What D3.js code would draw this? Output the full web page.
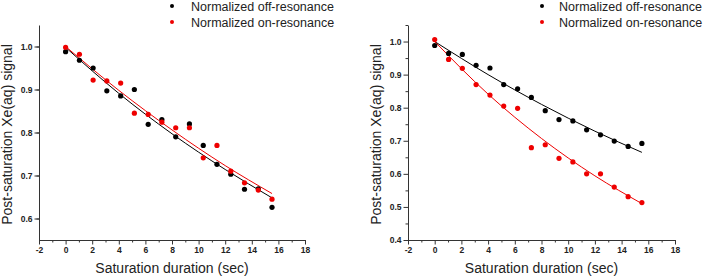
<!DOCTYPE html>
<html>
<head>
<meta charset="utf-8">
<script src="https://cdn.jsdelivr.net/npm/d3@7"></script>
<style>
  html, body { margin: 0; padding: 0; background: #fff; }
  svg { display: block; font-family: Arial, "Liberation Sans", sans-serif; }
</style>
</head>
<body>
<svg width="707" height="278"></svg>
<script>
// saturation durations (sec), shared by both panels
var times = [0, 1.04, 2.07, 3.1, 4.14, 5.17, 6.21, 7.24, 8.28, 9.31, 10.35, 11.38, 12.42, 13.45, 14.49, 15.52]

// left panel
var leftOff = [0.988, 0.968, 0.950, 0.897, 0.885, 0.900, 0.819, 0.830, 0.790, 0.820, 0.770, 0.726, 0.703, 0.668, 0.669, 0.626]
var leftOn = [0.998, 0.982, 0.922, 0.920, 0.915, 0.845, 0.842, 0.824, 0.811, 0.811, 0.741, 0.770, 0.710, 0.683, 0.666, 0.645]
// right panel
var rightOff = [0.988, 0.964, 0.961, 0.928, 0.920, 0.870, 0.857, 0.831, 0.791, 0.764, 0.760, 0.733, 0.718, 0.699, 0.683, 0.692]
var rightOn = [1.006, 0.946, 0.919, 0.870, 0.838, 0.805, 0.798, 0.679, 0.688, 0.647, 0.636, 0.600, 0.600, 0.560, 0.531, 0.513]

// fit curves
var fitT = [0, 4, 8, 12, 15.52]
var leftOffFit = [0.998, 0.891, 0.797, 0.714, 0.648]
var leftOnFit = [1.000, 0.898, 0.806, 0.723, 0.658]
var rightOffFit = [1.000, 0.900, 0.810, 0.729, 0.665]
var rightOnFit = [1.000, 0.841, 0.707, 0.594, 0.510]

var xTicks = [-2, 0, 2, 4, 6, 8, 10, 12, 14, 16, 18]
var leftYTicks = [0.6, 0.7, 0.8, 0.9, 1.0]
var rightYTicks = [0.4, 0.5, 0.6, 0.7, 0.8, 0.9, 1.0]

var legendLabels = ['Normalized off-resonance', 'Normalized on-resonance']
var colors = ['#000000', '#ee0000']

var svg = d3.select('svg')

function panel (opt) {
  var g = svg.append('g')

  var x = d3.scaleLinear().domain([-2, 18]).range([opt.x0, opt.x1])
  var y = d3.scaleLinear().domain(opt.yDomain).range([240, 25])

  var minorX = d3.range(-1, 18, 2)
  var minorY = d3.range(opt.yDomain[0] + 0.05, opt.yDomain[1] + 0.001, 0.1)

  // minor ticks
  g.append('g')
    .attr('transform', 'translate(0,240)')
    .call(d3.axisBottom(x).tickValues(minorX).tickSize(2.5).tickFormat(''))
    .call(a => a.select('.domain').remove())
  g.append('g')
    .attr('transform', `translate(${opt.x0},0)`)
    .call(d3.axisLeft(y).tickValues(minorY).tickSize(2.5).tickFormat(''))
    .call(a => a.select('.domain').remove())

  g.append('g')
    .attr('transform', 'translate(0,240)')
    .call(d3.axisBottom(x).tickValues(xTicks).tickSize(4.5).tickSizeOuter(0).tickPadding(2)
      .tickFormat(d => String(d)))
  g.append('g')
    .attr('transform', `translate(${opt.x0},0)`)
    .call(d3.axisLeft(y).tickValues(opt.yTicks).tickSize(4.5).tickSizeOuter(0).tickPadding(2)
      .tickFormat(d => d.toFixed(1)))

  g.selectAll('.tick text')
    .style('font-size', '8.5px')
    .style('font-weight', 'bold')
    .style('fill', '#222')
  g.selectAll('.domain, .tick line').style('stroke', '#333')

  var line = d3.line()
    .x(d => x(d[0]))
    .y(d => y(d[1]))
    .curve(d3.curveMonotoneX)

  opt.fits.forEach(function (f, i) {
    g.append('path')
      .attr('d', line(fitT.map((t, j) => [t, f[j]])))
      .style('fill', 'none')
      .style('stroke', colors[i])
      .style('stroke-width', 1)
  })

  opt.series.forEach(function (s, i) {
    g.append('g').selectAll('circle')
      .data(s)
      .enter()
      .append('circle')
      .attr('cx', (d, j) => x(times[j]))
      .attr('cy', d => y(d))
      .attr('r', 2.6)
      .style('fill', colors[i])
  })

  g.append('text')
    .attr('transform', `translate(${opt.titleX},${(25 + 240) / 2 + 2}) rotate(-90)`)
    .style('text-anchor', 'middle')
    .style('font-size', '14px')
    .style('fill', '#222')
    .text('Post-saturation Xe(aq) signal')

  g.append('text')
    .attr('x', (opt.x0 + opt.x1) / 2)
    .attr('y', 273)
    .style('text-anchor', 'middle')
    .style('font-size', '14px')
    .style('fill', '#222')
    .text('Saturation duration (sec)')

  legendLabels.forEach(function (l, i) {
    g.append('circle')
      .attr('cx', opt.legDot)
      .attr('cy', 6 + i * 16)
      .attr('r', 2)
      .style('fill', colors[i])
    g.append('text')
      .attr('x', opt.legText)
      .attr('y', 10.5 + i * 16)
      .style('font-size', '12.5px')
      .style('fill', '#222')
      .text(l)
  })
}

panel({
  x0: 39, x1: 305,
  yDomain: [0.55, 1.05],
  yTicks: leftYTicks,
  series: [leftOff, leftOn],
  fits: [leftOffFit, leftOnFit],
  titleX: 12,
  legDot: 172, legText: 191
})

panel({
  x0: 408, x1: 675,
  yDomain: [0.4, 1.05],
  yTicks: rightYTicks,
  series: [rightOff, rightOn],
  fits: [rightOffFit, rightOnFit],
  titleX: 381,
  legDot: 542, legText: 559
})
</script>
</body>
</html>
